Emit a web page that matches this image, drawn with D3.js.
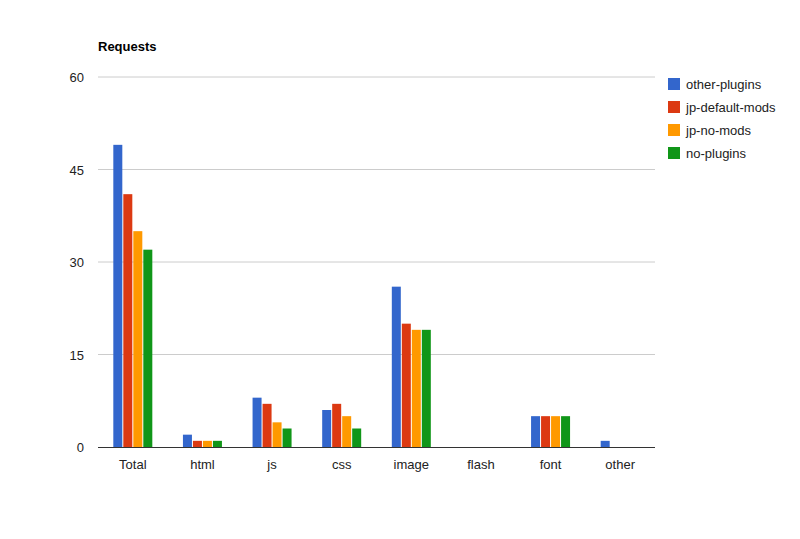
<!DOCTYPE html>
<html><head><meta charset="utf-8">
<script src="https://cdn.jsdelivr.net/npm/d3@7"></script>
<style>body{margin:0;background:#fff;font-family:"Liberation Sans",Arial,sans-serif;}</style>
</head><body><svg id="c" width="800" height="539"></svg>
<script>
const categories = ["Total","html","js","css","image","flash","font","other"];
const seriesNames = ["other-plugins","jp-default-mods","jp-no-mods","no-plugins"];
const colors = ["#3366cc","#dc3912","#ff9900","#109618"];
const otherPlugins = [49,2,8,6,26,0,5,1];
const jpDefaultMods = [41,1,7,7,20,0,5,0];
const jpNoMods = [35,1,4,5,19,0,5,0];
const noPlugins = [32,1,3,3,19,0,5,0];
const yTicks = [0,15,30,45,60];
const series = [otherPlugins,jpDefaultMods,jpNoMods,noPlugins];

const svg = d3.select("#c");
const L=98,R=655,T=77,B=447;
const x = d3.scaleBand().domain(categories).range([L,R]);
const y = d3.scaleLinear().domain([0,60]).range([B,T]);
const bw = 9, gap = 1, gw = 4*bw+3*gap;

svg.append("g").selectAll("line").data(yTicks.slice(1)).join("line")
  .attr("x1",L).attr("x2",R).attr("y1",d=>y(d)).attr("y2",d=>y(d)).attr("stroke","#ccc");
svg.append("g").selectAll("text").data(yTicks).join("text")
  .attr("x",84).attr("y",d=>y(d)+5).attr("text-anchor","end").attr("font-size",13).attr("fill","#222").text(d=>d);

series.forEach((s,i)=>{
  svg.append("g").selectAll("rect").data(s).join("rect")
    .attr("x",(d,j)=>x(categories[j])+x.bandwidth()/2-gw/2+i*(bw+gap))
    .attr("width",bw).attr("y",d=>y(d)).attr("height",d=>B-y(d)).attr("fill",colors[i]);
});
svg.append("line").attr("x1",L).attr("x2",R).attr("y1",B+0.5).attr("y2",B+0.5).attr("stroke","#333");
svg.append("g").selectAll("text").data(categories).join("text")
  .attr("x",d=>x(d)+x.bandwidth()/2).attr("y",469).attr("text-anchor","middle").attr("font-size",13).attr("fill","#222").text(d=>d);
svg.append("text").attr("x",98).attr("y",51).attr("font-size",13).attr("font-weight","bold").text("Requests");
const lg = svg.append("g").selectAll("g").data(seriesNames).join("g").attr("transform",(d,i)=>`translate(668,${78+i*23})`);
lg.append("rect").attr("width",12).attr("height",12).attr("fill",(d,i)=>colors[i]);
lg.append("text").attr("x",18).attr("y",11).attr("font-size",13).attr("fill","#222").text(d=>d);
</script></body></html>
